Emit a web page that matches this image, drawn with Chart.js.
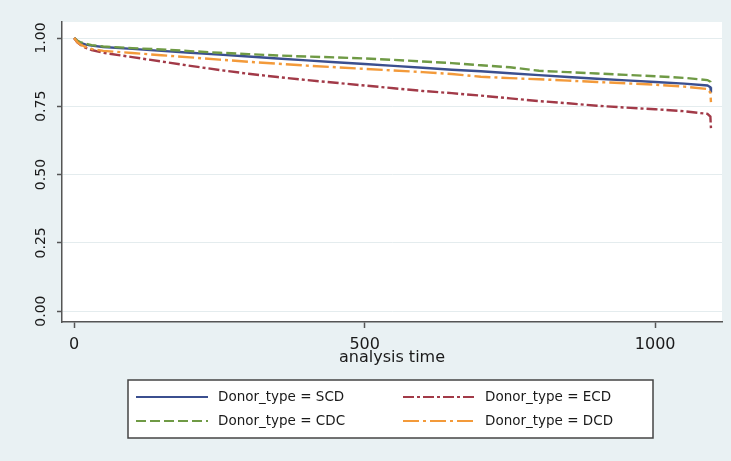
<!DOCTYPE html>
<html>
<head>
<meta charset="utf-8">
<script src="https://cdn.jsdelivr.net/npm/chart.js@4"></script>
<style>
  html, body { margin: 0; padding: 0; background: #e9f1f3; }
  #wrap { width: 731px; height: 461px; }
</style>
</head>
<body>
<div id="wrap"><canvas id="c" width="731" height="461"></canvas></div>
<script>
// ---- data ----
const times = [0, 5, 10, 20, 30, 50, 100, 150, 200, 250, 300, 350, 400, 450, 500, 550, 600, 650, 700, 750, 800, 850, 900, 950, 1000, 1050, 1090, 1095, 1096];
const scd = [1.000, 0.990, 0.983, 0.976, 0.972, 0.967, 0.960, 0.953, 0.946, 0.939, 0.932, 0.925, 0.918, 0.911, 0.905, 0.898, 0.891, 0.884, 0.878, 0.871, 0.864, 0.857, 0.851, 0.845, 0.839, 0.833, 0.826, 0.820, 0.800];
const ecd = [1.000, 0.985, 0.976, 0.964, 0.956, 0.946, 0.930, 0.914, 0.898, 0.883, 0.869, 0.857, 0.846, 0.836, 0.826, 0.816, 0.806, 0.798, 0.789, 0.779, 0.769, 0.761, 0.752, 0.745, 0.739, 0.732, 0.722, 0.712, 0.670];
const cdc = [1.000, 0.991, 0.985, 0.979, 0.974, 0.969, 0.963, 0.958, 0.952, 0.946, 0.941, 0.936, 0.932, 0.929, 0.925, 0.920, 0.914, 0.908, 0.900, 0.893, 0.880, 0.875, 0.870, 0.865, 0.860, 0.854, 0.846, 0.840, 0.830];
const dcd = [1.000, 0.986, 0.977, 0.967, 0.960, 0.953, 0.945, 0.937, 0.929, 0.921, 0.913, 0.906, 0.899, 0.893, 0.887, 0.881, 0.875, 0.868, 0.858, 0.853, 0.849, 0.844, 0.839, 0.834, 0.829, 0.822, 0.813, 0.800, 0.765];
const seriesLabels = ['Donor_type = SCD', 'Donor_type = ECD', 'Donor_type = CDC', 'Donor_type = DCD'];
const xTicks = [0, 500, 1000];
const xTickLabels = ['0', '500', '1000'];
const yTicks = [0, 0.25, 0.5, 0.75, 1.0];
const yTickLabels = ['0.00', '0.25', '0.50', '0.75', '1.00'];
const xTitle = 'analysis time';

// ---- styling ----
const FONT = 'DejaVu Sans';
const TEXT = '#1a1a1a';
const AXIS = '#555555';
const styles = [
  { color: '#3b4f8f', dash: [] },
  { color: '#a23a48', dash: [11, 3, 3, 3] },
  { color: '#6f9a45', dash: [10, 4] },
  { color: '#f39a3a', dash: [16, 4, 3, 4] }
];
const seriesValues = [scd, ecd, cdc, dcd];
const toPoints = vals => times.map((t, i) => ({ x: t, y: vals[i] }));

const datasets = seriesValues.map((vals, k) => ({
  label: seriesLabels[k],
  data: toPoints(vals),
  borderColor: styles[k].color,
  backgroundColor: styles[k].color,
  borderDash: styles[k].dash,
  borderWidth: 2.4,
  pointRadius: 0,
  tension: 0,
  fill: false
}));
datasets[0].order = 4; datasets[2].order = 3; datasets[1].order = 2; datasets[3].order = 1;

const bgPlugin = {
  id: 'bg',
  beforeDraw(chart) {
    const { ctx, chartArea: a } = chart;
    ctx.save();
    ctx.fillStyle = '#e9f1f3';
    ctx.fillRect(0, 0, chart.width, chart.height);
    ctx.fillStyle = '#ffffff';
    ctx.fillRect(a.left, a.top, a.right - a.left, a.bottom - a.top);
    ctx.restore();
  }
};

const legendPlugin = {
  id: 'stataLegend',
  afterDraw(chart) {
    const { ctx, chartArea: a } = chart;
    const boxL = a.left + 66, boxT = a.bottom + 58, boxW = 525, boxH = 58;
    ctx.save();
    ctx.fillStyle = '#ffffff';
    ctx.fillRect(boxL, boxT, boxW, boxH);
    ctx.strokeStyle = '#444444';
    ctx.lineWidth = 1.5;
    ctx.strokeRect(boxL, boxT, boxW, boxH);
    ctx.font = '13.5px "' + FONT + '"';
    ctx.textBaseline = 'middle';
    ctx.textAlign = 'left';
    chart.data.datasets.forEach((ds, i) => {
      const col = i % 2, row = Math.floor(i / 2);
      const sx = boxL + (col === 0 ? 8 : 275);
      const sy = boxT + (row === 0 ? 17 : 41);
      ctx.strokeStyle = ds.borderColor;
      ctx.lineWidth = 2;
      ctx.setLineDash(ds.borderDash || []);
      ctx.beginPath();
      ctx.moveTo(sx, sy);
      ctx.lineTo(sx + 72, sy);
      ctx.stroke();
      ctx.setLineDash([]);
      ctx.fillStyle = TEXT;
      ctx.fillText(ds.label, sx + 82, sy);
    });
    ctx.restore();
  }
};

new Chart(document.getElementById('c'), {
  type: 'line',
  data: { datasets },
  options: {
    responsive: false,
    animation: false,
    devicePixelRatio: 1,
    layout: { padding: { top: 22, right: 9, bottom: 89, left: 0 } },
    plugins: { legend: { display: false }, tooltip: { enabled: false } },
    scales: {
      x: {
        type: 'linear',
        min: -21, max: 1115,
        afterBuildTicks: s => { s.ticks = xTicks.map(v => ({ value: v })); },
        afterFit: s => { s.height = 50; },
        ticks: {
          callback: (v, i) => xTickLabels[i],
          maxRotation: 0, autoSkip: false, padding: 7,
          font: { family: FONT, size: 16 }, color: TEXT
        },
        grid: { drawOnChartArea: false, drawTicks: true, tickLength: 6, tickColor: AXIS, tickWidth: 1.5 },
        border: { color: AXIS, width: 1.5 },
        title: {
          display: true, text: xTitle, color: TEXT,
          font: { family: FONT, size: 16, lineHeight: 1 },
          padding: { top: 0, bottom: 6 }
        }
      },
      y: {
        type: 'linear',
        min: -0.04, max: 1.0586,
        afterBuildTicks: s => { s.ticks = yTicks.map(v => ({ value: v })); },
        afterFit: s => { s.width = 62; },
        ticks: {
          callback: (v, i) => yTickLabels[i],
          minRotation: 90, maxRotation: 90, crossAlign: 'center',
          autoSkip: false, padding: 0,
          font: { family: FONT, size: 14 }, color: TEXT
        },
        grid: { color: '#e4ecee', lineWidth: 1, drawTicks: true, tickLength: 5, tickColor: AXIS, tickWidth: 1.5 },
        border: { color: AXIS, width: 1.5 }
      }
    }
  },
  plugins: [bgPlugin, legendPlugin]
});
</script>
</body>
</html>
